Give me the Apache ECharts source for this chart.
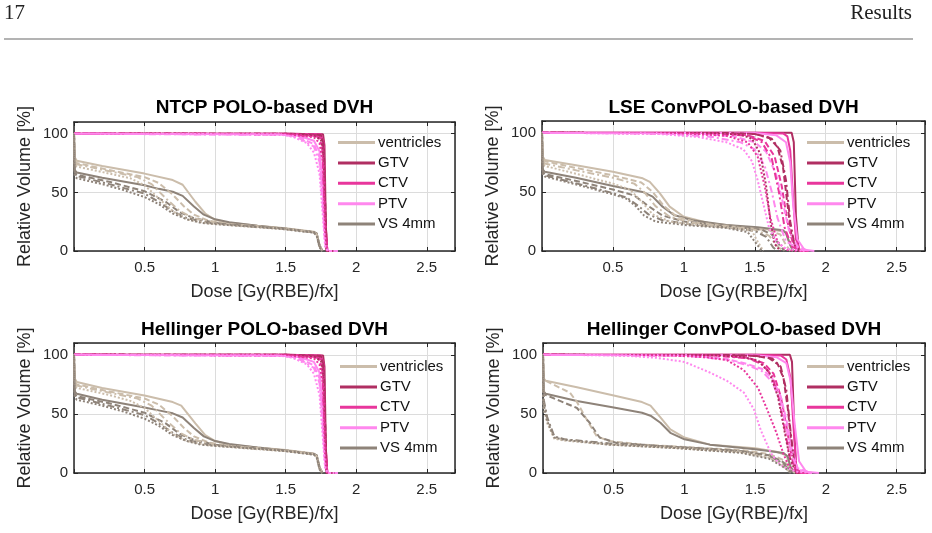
<!DOCTYPE html>
<html>
<head>
<meta charset="utf-8">
<script src="https://cdn.jsdelivr.net/npm/echarts@6/dist/echarts.min.js"></script>
<style>
  html, body { margin: 0; padding: 0; background: #fff; }
  #chart { width: 932px; height: 533px; }
</style>
</head>
<body>
<div id="chart"></div>
<script>
const structures = ["ventricles", "GTV", "CTV", "PTV", "VS 4mm"];
const panelTitles = ["NTCP POLO-based DVH", "LSE ConvPOLO-based DVH", "Hellinger POLO-based DVH", "Hellinger ConvPOLO-based DVH"];
const xTickLabels = [0.5, 1, 1.5, 2, 2.5];
const yTickLabels = [0, 50, 100];

// every structure: [solid, dashed, dash-dot, dotted] curves, points are [dose Gy(RBE)/fx, volume %]
const ntcpVentricles = [
  [[0,100],[0.005,80],[0.02,77],[0.2,72.5],[0.5,66],[0.7,60.5],[0.77,56.5],[0.86,42],[0.93,32],[1.0,26.5],[1.1,24],[1.3,21.5],[1.5,19.5],[1.7,16.5],[1.72,15],[1.74,5],[1.76,0]],
  [[0,100],[0.005,77],[0.02,75],[0.25,69],[0.5,63],[0.6,58],[0.7,48],[0.78,38],[0.85,31],[0.95,26],[1.1,23],[1.3,21],[1.5,19],[1.7,16],[1.72,14],[1.74,4],[1.76,0]],
  [[0,100],[0.005,76],[0.02,74],[0.25,68],[0.45,63],[0.55,57],[0.65,45],[0.75,34],[0.85,28],[1.0,24],[1.2,22],[1.5,19],[1.7,16],[1.72,14],[1.74,4],[1.76,0]],
  [[0,100],[0.005,74],[0.02,72],[0.25,66],[0.4,62],[0.5,56],[0.6,45],[0.7,34],[0.8,27],[0.95,23.5],[1.2,21],[1.5,18.5],[1.7,16],[1.72,14],[1.74,4],[1.76,0]]
];
const ntcpGTV = [
  [[0,100],[1.5,100],[1.765,99.5],[1.775,90],[1.785,20],[1.795,0],[1.85,0]],
  [[0,100],[1.5,100],[1.75,99],[1.77,90],[1.78,40],[1.79,0],[1.85,0]],
  [[0,100],[1.5,100],[1.75,98.5],[1.765,92],[1.78,40],[1.79,0]],
  [[0,100],[1.5,99.8],[1.7,98.5],[1.75,95],[1.77,80],[1.78,30],[1.79,0]]
];
const ntcpCTV = [
  [[0,100],[1.5,100],[1.75,99.5],[1.77,92],[1.78,30],[1.795,0],[1.86,0]],
  [[0,100],[1.5,99.8],[1.74,98],[1.765,88],[1.78,20],[1.795,0]],
  [[0,100],[1.5,99.8],[1.73,97.5],[1.76,88],[1.78,20],[1.795,0]],
  [[0,100],[1.5,99.6],[1.7,97],[1.74,92],[1.765,75],[1.78,15],[1.795,0]]
];
const ntcpPTV = [
  [[0,100],[1.5,99.5],[1.6,98],[1.7,94],[1.74,85],[1.76,60],[1.78,10],[1.8,0],[1.87,0]],
  [[0,100],[1.5,99.3],[1.6,97],[1.7,91],[1.74,80],[1.76,50],[1.78,8],[1.8,0]],
  [[0,100],[1.5,99],[1.6,96],[1.7,89],[1.74,76],[1.76,45],[1.78,6],[1.8,0]],
  [[0,100],[1.45,99.5],[1.55,97.5],[1.65,92],[1.7,84],[1.74,66],[1.76,35],[1.78,3],[1.8,0],[1.87,0]]
];
const ntcpVS = [
  [[0,100],[0.005,69],[0.02,67],[0.2,62.5],[0.5,56],[0.6,53],[0.7,50.5],[0.77,47],[0.85,38],[0.92,31],[1.0,27],[1.1,24.5],[1.3,21.5],[1.5,19],[1.7,16],[1.72,15],[1.74,5],[1.76,0]],
  [[0,100],[0.005,67],[0.02,65],[0.25,59],[0.5,51],[0.65,42],[0.75,33],[0.85,28],[1.0,24],[1.2,21.5],[1.5,19],[1.7,16],[1.72,14],[1.74,4],[1.76,0]],
  [[0,100],[0.005,66],[0.02,64],[0.25,57],[0.5,49],[0.6,42],[0.7,34],[0.8,28],[0.95,24],[1.2,21.5],[1.5,19],[1.7,16],[1.72,14],[1.74,4],[1.76,0]],
  [[0,100],[0.005,64],[0.02,62],[0.2,57],[0.35,52],[0.5,46],[0.6,40],[0.7,32],[0.8,27],[0.9,24],[1.05,22.5],[1.3,20.5],[1.5,18.5],[1.7,15.5],[1.72,13],[1.74,3],[1.76,0]]
];

const lseVentricles = [
  [[0,100],[0.005,80],[0.02,77],[0.24,72.5],[0.5,67],[0.71,61.5],[0.76,58.5],[0.83,49],[0.9,37.5],[1.0,29],[1.18,23.5],[1.5,19.5],[1.65,17.5],[1.72,16],[1.74,8],[1.77,0]],
  [[0,100],[0.005,78],[0.02,76],[0.25,70],[0.5,64],[0.7,58],[0.78,50],[0.86,38],[0.95,29],[1.1,24],[1.4,20],[1.6,17.5],[1.68,14],[1.72,5],[1.75,0]],
  [[0,100],[0.005,76],[0.02,74],[0.25,68],[0.5,62],[0.65,57],[0.72,50],[0.8,38],[0.9,29],[1.05,24],[1.3,21],[1.5,18],[1.6,13],[1.66,4],[1.7,0]],
  [[0,100],[0.005,74],[0.02,72],[0.25,65],[0.5,57],[0.62,52],[0.7,42],[0.78,31],[0.9,25],[1.1,22],[1.35,19.5],[1.48,17],[1.52,8],[1.56,0]]
];
const lseGTV = [
  [[0,100],[1.5,100],[1.76,100],[1.775,92],[1.79,30],[1.81,0],[1.86,0]],
  [[0,100],[1.3,99.8],[1.5,99],[1.6,96],[1.66,88],[1.7,70],[1.73,40],[1.76,12],[1.8,0]],
  [[0,100],[1.3,99.8],[1.5,99],[1.62,95],[1.68,85],[1.72,60],[1.75,25],[1.78,5],[1.82,0]],
  [[0,100],[1.2,99.8],[1.4,98.5],[1.48,95],[1.54,82],[1.58,55],[1.61,25],[1.64,6],[1.68,0]]
];
const lseCTV = [
  [[0,100],[1.5,100],[1.7,99.5],[1.73,97],[1.75,85],[1.77,45],[1.79,10],[1.82,0],[1.88,0]],
  [[0,100],[1.2,99.7],[1.45,98],[1.57,93],[1.64,80],[1.69,55],[1.73,25],[1.77,6],[1.82,0]],
  [[0,100],[1.2,99.6],[1.45,97.5],[1.55,92],[1.62,78],[1.67,50],[1.71,20],[1.76,4],[1.82,0]],
  [[0,100],[1.0,99.5],[1.3,97.5],[1.45,92],[1.52,80],[1.57,55],[1.61,28],[1.66,8],[1.72,1],[1.8,0]]
];
const lsePTV = [
  [[0,100],[1.5,99.8],[1.65,98],[1.72,92],[1.75,75],[1.77,40],[1.8,10],[1.85,1],[1.92,0]],
  [[0,100],[1.1,99.3],[1.35,97],[1.5,92],[1.58,84],[1.65,65],[1.7,40],[1.74,18],[1.8,4],[1.88,0]],
  [[0,100],[0.9,99.3],[1.2,96.5],[1.4,92],[1.5,86],[1.57,72],[1.62,50],[1.66,28],[1.72,8],[1.85,0]],
  [[0,100],[0.8,99.3],[1.1,96.5],[1.3,92],[1.42,86],[1.48,76],[1.52,60],[1.56,40],[1.6,20],[1.65,8],[1.72,2],[1.85,0]]
];
const lseVS = [
  [[0,100],[0.005,69],[0.02,67],[0.24,62],[0.5,55],[0.71,50],[0.78,46],[0.85,37.5],[0.93,30.5],[1.06,26],[1.3,22],[1.52,20],[1.7,17.5],[1.72,15],[1.75,5],[1.77,0]],
  [[0,100],[0.005,67],[0.02,65],[0.25,59],[0.5,52],[0.65,47],[0.75,38],[0.85,30],[1.0,25],[1.3,21],[1.55,18],[1.62,14],[1.68,4],[1.71,0]],
  [[0,100],[0.005,66],[0.02,64],[0.25,57],[0.5,49],[0.6,45],[0.68,38],[0.75,31],[0.85,26],[1.05,22.5],[1.3,20],[1.5,17],[1.58,12],[1.63,3],[1.66,0]],
  [[0,100],[0.005,65],[0.02,63],[0.25,56],[0.5,48],[0.6,44],[0.66,38],[0.72,30],[0.8,25],[1.0,22],[1.3,19.5],[1.45,16],[1.5,8],[1.55,0]]
];

const hellPoloVentricles = [
  [[0,100],[0.005,80],[0.02,77],[0.2,72],[0.5,65.5],[0.7,60],[0.76,57],[0.86,42],[0.93,32],[1.0,27],[1.1,24],[1.3,21.5],[1.5,19.5],[1.7,16.5],[1.72,15],[1.74,5],[1.76,0]],
  [[0,100],[0.005,77],[0.02,75],[0.25,69],[0.5,63],[0.6,58],[0.7,48],[0.78,38],[0.85,31],[0.95,26],[1.1,23],[1.3,21],[1.5,19],[1.7,16],[1.72,14],[1.74,4],[1.76,0]],
  [[0,100],[0.005,76],[0.02,74],[0.25,68],[0.45,63],[0.55,57],[0.65,45],[0.75,34],[0.85,28],[1.0,24],[1.2,22],[1.5,19],[1.7,16],[1.72,14],[1.74,4],[1.76,0]],
  [[0,100],[0.005,74],[0.02,72],[0.25,66],[0.4,61],[0.5,55],[0.6,44],[0.7,33],[0.8,27],[0.95,23.5],[1.2,21],[1.5,18.5],[1.7,16],[1.72,14],[1.74,4],[1.76,0]]
];
const hellPoloGTV = [
  [[0,100],[1.5,100],[1.765,99.5],[1.775,90],[1.785,20],[1.795,0],[1.85,0]],
  [[0,100],[1.5,100],[1.75,99],[1.77,90],[1.78,40],[1.79,0],[1.85,0]],
  [[0,100],[1.5,100],[1.75,98.5],[1.765,92],[1.78,40],[1.79,0]],
  [[0,100],[1.5,99.8],[1.7,98.5],[1.75,95],[1.77,80],[1.78,30],[1.79,0]]
];
const hellPoloCTV = [
  [[0,100],[1.5,100],[1.75,99.5],[1.77,92],[1.78,30],[1.795,0],[1.86,0]],
  [[0,100],[1.5,99.8],[1.74,98],[1.765,88],[1.78,20],[1.795,0]],
  [[0,100],[1.5,99.8],[1.73,97.5],[1.76,88],[1.78,20],[1.795,0]],
  [[0,100],[1.5,99.6],[1.7,97],[1.74,92],[1.765,75],[1.78,15],[1.795,0]]
];
const hellPoloPTV = [
  [[0,100],[1.5,99.5],[1.6,98],[1.7,94],[1.74,85],[1.76,60],[1.78,10],[1.8,0],[1.87,0]],
  [[0,100],[1.5,99.3],[1.6,97],[1.7,91],[1.74,80],[1.76,50],[1.78,8],[1.8,0]],
  [[0,100],[1.5,99],[1.6,96],[1.7,89],[1.74,76],[1.76,45],[1.78,6],[1.8,0]],
  [[0,100],[1.45,99.5],[1.55,97.5],[1.65,92],[1.7,84],[1.74,66],[1.76,35],[1.78,3],[1.8,0],[1.87,0]]
];
const hellPoloVS = [
  [[0,100],[0.005,69],[0.02,67],[0.2,62],[0.5,55.5],[0.6,53],[0.7,50.5],[0.77,47],[0.85,38],[0.92,31],[1.0,27],[1.1,24.5],[1.3,21.5],[1.5,19],[1.7,16],[1.72,15],[1.74,5],[1.76,0]],
  [[0,100],[0.005,67],[0.02,65],[0.25,59],[0.5,51],[0.65,42],[0.75,33],[0.85,28],[1.0,24],[1.2,21.5],[1.5,19],[1.7,16],[1.72,14],[1.74,4],[1.76,0]],
  [[0,100],[0.005,66],[0.02,64],[0.25,57],[0.5,49],[0.6,42],[0.7,34],[0.8,28],[0.95,24],[1.2,21.5],[1.5,19],[1.7,16],[1.72,14],[1.74,4],[1.76,0]],
  [[0,100],[0.005,64],[0.02,62],[0.2,57],[0.35,52],[0.5,46],[0.6,40],[0.7,32],[0.8,27],[0.9,24],[1.05,22.5],[1.3,20.5],[1.5,18.5],[1.7,15.5],[1.72,13],[1.74,3],[1.76,0]]
];

const hellConvVentricles = [
  [[0,100],[0.005,80],[0.02,78],[0.24,72.5],[0.5,65.5],[0.7,60],[0.76,57],[0.83,47],[0.9,37],[1.0,30],[1.18,24],[1.5,21],[1.65,18],[1.72,15],[1.75,5],[1.78,0]],
  [[0,100],[0.005,80],[0.02,78],[0.12,72],[0.19,68],[0.24,60],[0.31,45],[0.38,31],[0.47,27],[0.7,24],[1.0,22],[1.4,19.5],[1.6,16],[1.7,11],[1.75,3],[1.78,0]],
  [[0,100],[0.005,60],[0.03,45],[0.08,30],[0.15,28.5],[0.47,24.5],[0.95,21.5],[1.4,18],[1.6,14],[1.7,7],[1.75,0]],
  [[0,100],[0.005,55],[0.03,42],[0.08,29],[0.15,27.5],[0.47,24],[0.95,21],[1.4,17.5],[1.6,13],[1.7,6],[1.75,0]]
];
const hellConvGTV = [
  [[0,100],[1.5,100],[1.745,100],[1.76,94],[1.775,40],[1.79,0],[1.86,0]],
  [[0,100],[1.3,99.8],[1.5,99],[1.6,97],[1.66,92],[1.7,80],[1.73,55],[1.76,20],[1.79,0]],
  [[0,100],[1.3,99.8],[1.5,99.2],[1.62,97],[1.68,90],[1.72,70],[1.75,35],[1.78,5],[1.8,0]],
  [[0,100],[1.2,99.7],[1.4,98.5],[1.52,95],[1.6,85],[1.66,65],[1.7,40],[1.74,15],[1.78,2],[1.8,0]]
];
const hellConvCTV = [
  [[0,100],[1.5,100],[1.68,99.5],[1.72,96],[1.75,80],[1.77,40],[1.79,5],[1.82,0],[1.9,0]],
  [[0,100],[1.2,99.6],[1.45,97.5],[1.56,93],[1.63,84],[1.68,65],[1.72,40],[1.76,12],[1.8,0]],
  [[0,100],[1.2,99.5],[1.45,97],[1.55,92],[1.62,82],[1.67,62],[1.71,36],[1.75,10],[1.8,0]],
  [[0,100],[0.9,99.5],[1.15,98],[1.3,95.5],[1.42,87],[1.52,72],[1.58,55],[1.65,34],[1.7,16],[1.74,5],[1.8,0]]
];
const hellConvPTV = [
  [[0,100],[1.5,99.7],[1.65,98],[1.72,93],[1.75,78],[1.78,40],[1.81,10],[1.86,1],[1.95,0]],
  [[0,100],[1.0,99.5],[1.3,96.5],[1.45,92],[1.55,88],[1.62,80],[1.68,65],[1.72,45],[1.76,20],[1.8,4],[1.9,0]],
  [[0,100],[1.0,99.3],[1.3,96],[1.45,91],[1.55,86],[1.62,77],[1.68,60],[1.72,38],[1.76,15],[1.8,3],[1.9,0]],
  [[0,100],[0.55,99.5],[0.8,97.5],[1.0,94],[1.18,85],[1.3,78],[1.42,68],[1.49,54],[1.54,36],[1.61,17],[1.66,9],[1.7,5],[1.8,1],[1.9,0]]
];
const hellConvVS = [
  [[0,100],[0.005,69],[0.02,67],[0.24,61],[0.5,55.5],[0.7,51],[0.76,48.5],[0.83,42.5],[0.9,34],[1.0,28.5],[1.18,24],[1.5,20],[1.7,17],[1.73,14],[1.75,5],[1.78,0]],
  [[0,100],[0.005,68],[0.02,66],[0.12,61],[0.24,55],[0.33,42.5],[0.4,30],[0.52,25.5],[0.8,23],[1.1,21],[1.4,18.5],[1.6,15],[1.7,9],[1.75,2],[1.78,0]],
  [[0,100],[0.005,62],[0.03,47],[0.08,31],[0.15,28.5],[0.47,25],[0.95,22],[1.4,18.5],[1.6,14.5],[1.7,8],[1.75,0]],
  [[0,100],[0.005,58],[0.03,44],[0.08,30],[0.15,28],[0.47,24],[0.95,21],[1.4,17],[1.6,12],[1.7,5],[1.76,0]]
];

const panels = [
  [ntcpVentricles, ntcpGTV, ntcpCTV, ntcpPTV, ntcpVS],
  [lseVentricles, lseGTV, lseCTV, lsePTV, lseVS],
  [hellPoloVentricles, hellPoloGTV, hellPoloCTV, hellPoloPTV, hellPoloVS],
  [hellConvVentricles, hellConvGTV, hellConvCTV, hellConvPTV, hellConvVS]
];

const colors = ["#cbbdab", "#b02e62", "#e8369c", "#ff88ee", "#8e8379"];
const dashes = ["solid", [6, 3], [7, 3, 2, 3], [2, 2]];
const grids = [
  { left: 74, top: 122, width: 381, height: 129 },
  { left: 542, top: 121, width: 383, height: 130 },
  { left: 74, top: 343, width: 381, height: 130 },
  { left: 543, top: 343, width: 382, height: 130 }
];
const legendPos = [[338, 135], [807, 135], [340, 359], [807, 359]];
const font = "Liberation Sans";
const ink = "#262626";

const chart = echarts.init(document.getElementById("chart"));

const xAxes = [];
const yAxes = [];
grids.forEach((g, p) => {
  const frame = { show: true, onZero: false, lineStyle: { color: ink, width: 1.5 } };
  const tick = { show: true, inside: true, length: 4, lineStyle: { color: ink, width: 1 } };
  xAxes.push({
    type: "value", gridIndex: p, position: "bottom", min: 0, max: 2.7, interval: 0.5,
    axisLine: frame, axisTick: tick,
    axisLabel: {
      color: ink, fontSize: 15, fontFamily: font, margin: 9,
      formatter: v => (xTickLabels.indexOf(+v.toFixed(2)) >= 0 ? String(+v.toFixed(2)) : "")
    },
    splitLine: { show: true, lineStyle: { color: "#dcdcdc", width: 1 } },
    name: "Dose [Gy(RBE)/fx]", nameLocation: "middle", nameGap: 32,
    nameTextStyle: { color: ink, fontSize: 18, fontFamily: font }
  });
  xAxes.push({
    type: "value", gridIndex: p, position: "top", min: 0, max: 2.7, interval: 0.5,
    axisLine: frame, axisTick: tick, axisLabel: { show: false }, splitLine: { show: false }
  });
  yAxes.push({
    type: "value", gridIndex: p, position: "left", min: 0, max: 110, interval: 50,
    axisLine: frame, axisTick: tick,
    axisLabel: {
      color: ink, fontSize: 15, fontFamily: font, margin: 6,
      formatter: v => (yTickLabels.indexOf(v) >= 0 ? String(v) : "")
    },
    splitLine: { show: true, lineStyle: { color: "#dcdcdc", width: 1 } },
    name: "Relative Volume [%]", nameLocation: "middle", nameGap: 40, nameRotate: 90,
    nameTextStyle: { color: ink, fontSize: 18, fontFamily: font }
  });
  yAxes.push({
    type: "value", gridIndex: p, position: "right", min: 0, max: 110, interval: 50,
    axisLine: frame, axisTick: tick, axisLabel: { show: false }, splitLine: { show: false }
  });
});

const series = [];
panels.forEach((panel, p) => {
  dashes.forEach((dash, k) => {
    panel.forEach((curves, s) => {
      series.push({
        name: structures[s], type: "line", xAxisIndex: 2 * p, yAxisIndex: 2 * p,
        data: curves[k], symbol: "none", showSymbol: false, silent: true,
        lineStyle: { color: colors[s], width: 2, type: dash },
        itemStyle: { color: colors[s] }
      });
    });
  });
});

// legend swatches drawn as short bars, like the plain line samples of the original
const legends = legendPos.map(pos => ({
  data: structures, orient: "vertical", left: pos[0], top: pos[1], padding: 0,
  icon: "rect", itemWidth: 37, itemHeight: 3, itemGap: 5.4, selectedMode: false,
  textStyle: { color: "#111", fontSize: 15, fontFamily: font, padding: [0, 0, 0, -2] }
}));

const titleCenters = [[264.5, 108], [733.5, 108], [264.5, 330], [734, 330]];
const graphic = [
  { type: "text", x: 4, y: 13, style: { text: "17", fontFamily: "Liberation Serif", fontSize: 21, fill: "#222", verticalAlign: "middle" } },
  { type: "text", x: 912, y: 13, style: { text: "Results", fontFamily: "Liberation Serif", fontSize: 21, fill: "#222", align: "right", verticalAlign: "middle" } },
  { type: "line", shape: { x1: 4, y1: 39, x2: 913, y2: 39 }, style: { stroke: "#9a9a9a", lineWidth: 1.5 } }
];
titleCenters.forEach((c, p) => {
  graphic.push({
    type: "text", x: c[0], y: c[1],
    style: { text: panelTitles[p], fontFamily: font, fontSize: 19, fontWeight: "bold", fill: "#000", align: "center", verticalAlign: "middle" }
  });
});

chart.setOption({
  animation: false,
  backgroundColor: "#fff",
  grid: grids.map(g => Object.assign({ containLabel: false }, g)),
  xAxis: xAxes,
  yAxis: yAxes,
  legend: legends,
  graphic: graphic,
  series: series
});
</script>
</body>
</html>
